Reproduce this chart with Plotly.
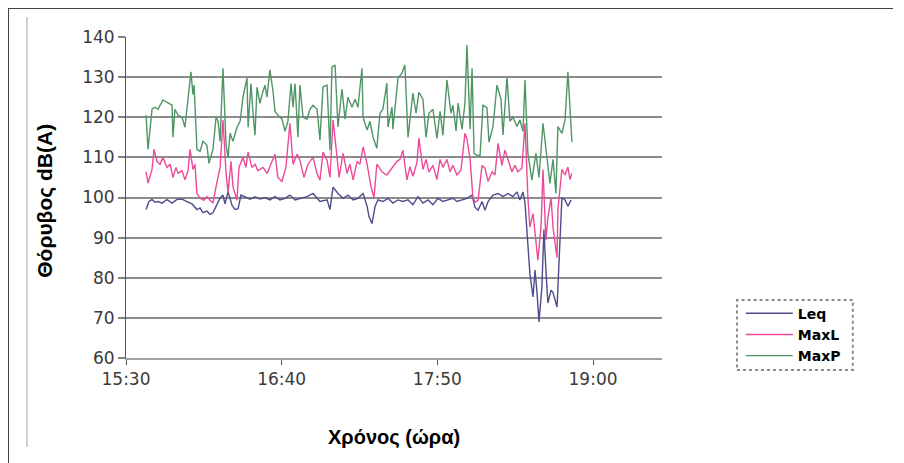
import plotly.graph_objects as go
from datetime import datetime, timedelta

# Times are minutes after 15:30, values in dB(A)
leq_min = [9.0, 10.3, 11.7, 13.0, 14.4, 16.2, 18.4, 20.7, 22.9, 25.2, 27.4, 29.7, 31.9, 33.3, 34.6, 36.4,
           37.8, 39.1, 40.5, 42.3, 43.6, 44.5, 45.9, 47.7, 49.0, 50.4, 51.7, 53.5, 55.8, 58.0, 60.2, 62.5,
           64.7, 67.0, 69.2, 71.5, 73.7, 76.0, 78.2, 81.4, 84.1, 87.2, 90.4, 91.7, 93.1, 95.3, 97.6, 99.8,
           102.1, 104.3, 106.6, 108.4, 109.3, 110.6, 112.0, 113.3, 115.5, 117.8, 120.0, 122.3, 124.5, 126.8,
           129.0, 131.3, 133.5, 135.8, 138.0, 140.3, 142.5, 144.8, 147.0, 148.8, 151.1, 153.3, 155.6, 156.9,
           158.3, 160.1, 161.4, 162.8, 165.0, 167.3, 169.5, 171.7, 174.0, 175.8, 177.1, 178.5, 179.4, 180.3,
           181.6, 183.0, 183.9, 184.8, 185.7, 187.0, 187.9, 188.8, 189.7, 191.1, 192.0, 193.8, 194.7, 196.0,
           197.4, 198.7, 200.1]
leq_val = [97, 99, 99.5, 98.8, 99, 98.6, 99.5, 98.6, 99.5, 99.6, 99, 98.4, 97, 97.4, 96.2, 96.6,
           95.8, 96.2, 97.8, 99.9, 100.6, 98.4, 101.4, 98, 97, 97.2, 100.6, 100.2, 99.6, 100.2, 99.6, 100,
           99.4, 100.2, 99.4, 99.8, 100.6, 99.4, 99.8, 100.2, 101, 99, 99.4, 97, 102.6, 101, 99.8, 100.6,
           99.4, 99.8, 101, 97.8, 95.2, 93.5, 97.8, 99.4, 99, 99.8, 98.6, 99.4, 99, 99.4,
           98.2, 100.2, 98.6, 99.4, 98.2, 99.8, 99, 99.4, 99.8, 99, 99.4, 99.8, 100.6, 97.6,
           96.8, 99, 96.8, 99, 100.6, 101, 100.2, 101, 100.2, 101.4, 99.4, 101.4, 98.6, 91.1,
           81.1, 75.2, 81.9, 76.3, 69, 77.7, 92, 81.9, 73.7, 76.9, 76.3, 72.7, 84.4, 100,
           99.4, 97.8, 99.4]

maxl_min = [9.0, 9.9, 11.7, 12.6, 13.9, 15.3, 16.6, 18.4, 19.8, 21.1, 22.5, 23.4, 25.2, 26.5, 27.9, 28.8,
            30.1, 31.0, 31.9, 33.3, 35.1, 36.4, 37.8, 39.1, 40.5, 42.3, 43.6, 45.0, 45.9, 47.2, 48.1, 49.9,
            50.8, 52.6, 53.9, 54.9, 56.6, 58.0, 59.3, 61.6, 63.4, 65.2, 67.0, 68.3, 70.1, 71.9, 73.7, 75.1,
            76.9, 78.2, 80.0, 81.8, 84.1, 85.9, 87.2, 88.6, 90.4, 91.7, 93.1, 94.9, 95.8, 97.6, 99.4, 100.7,
            102.1, 103.9, 105.2, 106.6, 108.4, 110.2, 111.5, 112.8, 115.1, 117.3, 119.6, 121.8, 123.2, 124.5,
            126.3, 127.7, 129.0, 130.8, 131.7, 133.5, 134.9, 136.2, 138.0, 139.8, 141.2, 142.5, 144.3, 145.7,
            147.0, 148.8, 150.6, 152.4, 153.3, 154.7, 156.0, 156.9, 158.3, 160.1, 161.4, 162.8, 164.6, 165.9,
            167.3, 169.0, 170.4, 171.7, 173.5, 174.9, 176.2, 178.0, 179.4, 180.7, 181.6, 183.0, 184.3, 185.2,
            186.6, 187.5, 188.8, 189.7, 191.1, 192.0, 193.8, 194.2, 196.0, 197.4, 198.7, 199.6, 200.5]
maxl_val = [106.4, 103.6, 107, 112, 109, 108.3, 110, 107.5, 108.3, 105, 107.5, 106, 106.7, 104.4, 106.7, 112,
            107, 108.3, 101, 99.8, 99.3, 100.2, 99.3, 98.6, 102.7, 107.5, 119.3, 106, 101.2, 109, 102.7, 99.3,
            107.5, 110, 107.5, 111.3, 107.5, 108.3, 106.7, 107.5, 106, 108.3, 110.8, 105, 104, 107.5, 118.5, 108.3,
            110.8, 109.3, 105, 108.3, 110, 106, 104.3, 111.3, 109.3, 105, 119.3, 110, 105, 111, 106, 108.3,
            104.4, 109, 108.3, 112.6, 108.3, 102.6, 100, 108.3, 106.4, 105.6, 107.3, 109, 109.5, 111.8,
            104.4, 107.7, 105.3, 108.7, 114.8, 107, 109.5, 106.4, 108, 104.5, 109.5, 107.5, 109.5, 106.4,
            108, 105.6, 106.8, 116, 114.6, 109.5, 100, 98.8, 99.3, 108, 107.3, 104, 106.4, 105.6,
            113.5, 108, 111.8, 109.5, 106.4, 108, 106.4, 107.3, 118.5, 100, 92.6, 96, 89.4, 84.4,
            92.6, 107, 89.4, 95, 100, 92.6, 85, 97, 107, 105.6, 107.6, 104.5, 106]

maxp_min = [9.0, 9.9, 11.7, 13.0, 14.4, 16.6, 18.9, 20.7, 21.1, 22.0, 23.4, 25.2, 26.5, 27.4, 29.2, 30.1,
            30.6, 31.9, 33.3, 34.6, 36.4, 37.3, 39.1, 40.5, 41.4, 42.3, 43.6, 45.0, 45.9, 46.8, 48.1, 49.9,
            51.3, 52.6, 54.4, 54.9, 56.2, 57.1, 58.0, 58.9, 60.2, 61.6, 62.5, 63.4, 64.7, 66.1, 67.0, 68.3,
            70.1, 71.5, 72.8, 74.2, 75.1, 76.0, 77.3, 78.2, 79.6, 81.4, 82.7, 84.1, 85.9, 87.2, 88.6, 90.4,
            91.7, 92.6, 94.0, 95.3, 97.1, 98.5, 99.8, 101.6, 103.0, 104.3, 106.1, 106.6, 108.4, 109.7, 111.1,
            112.8, 114.2, 115.5, 117.3, 117.8, 119.6, 120.0, 122.3, 124.1, 125.4, 126.8, 129.0, 130.4, 131.7,
            133.5, 134.9, 136.2, 138.0, 139.8, 141.2, 142.5, 144.3, 146.1, 147.0, 148.4, 149.3, 151.1, 152.4,
            153.3, 154.7, 155.6, 156.5, 157.8, 159.2, 160.5, 162.3, 163.2, 165.0, 166.8, 168.6, 169.5, 171.3,
            172.6, 174.0, 175.8, 177.1, 178.5, 179.4, 180.7, 182.5, 184.3, 185.7, 187.5, 189.3, 190.6, 192.0,
            193.3, 194.2, 196.0, 197.4, 198.7, 200.5]
maxp_val = [120.5, 112, 122, 122.5, 122, 124.3, 123.6, 123, 115, 122, 120.5, 120, 117.5, 122, 131.3, 125.7,
            128, 112, 111.5, 114, 113, 108.5, 112, 120, 119, 114, 132.2, 113, 110, 116, 114, 117.5,
            119, 125, 129.8, 117.5, 128.4, 121, 115.5, 127.5, 123.5, 126.5, 128, 125, 131.8, 126.5, 121.5, 120.5,
            119.6, 116.5, 119, 128.4, 122.5, 128.4, 115, 128, 120, 119.5, 122, 123, 122, 114.3, 127.6, 128,
            111.8, 132.5, 133, 117.6, 127, 119.5, 125, 122.5, 124.5, 122.5, 132.2, 120, 116.8, 119, 115,
            112.3, 121, 122, 128.5, 117.6, 122.5, 117, 129.8, 131, 133, 115, 126, 121, 126.2,
            124.5, 115, 121, 122, 114.7, 121.5, 115.5, 129.3, 121, 123, 116.6, 123.5, 117, 123.5,
            138, 117, 132.2, 111, 110.5, 110.5, 123, 122.4, 113.8, 117.6, 128, 124.5, 115.6, 130,
            119, 120, 117.7, 119.3, 116.5, 129.3, 111, 104.3, 111, 105, 118.5, 110.5, 103.5, 109.5,
            101, 117.7, 116, 119.3, 131.3, 113.8]

series_names = ["Leq", "MaxL", "MaxP"]
x_ticks = ["15:30", "16:40", "17:50", "19:00"]
y_title = "Θόρυβος dB(A)"
x_title = "Χρόνος (ώρα)"

base = datetime(2000, 1, 1, 15, 30)


def to_time(mins):
    return [base + timedelta(minutes=m) for m in mins]


colors = ["#4d4d8e", "#ec4a98", "#4f9566"]
fig = go.Figure()
for name, mins, vals, col in zip(series_names, [leq_min, maxl_min, maxp_min],
                                 [leq_val, maxl_val, maxp_val], colors):
    fig.add_trace(go.Scatter(x=to_time(mins), y=vals, mode="lines", name=name,
                             line=dict(color=col, width=1.4)))

tick_vals = [datetime(2000, 1, 1, int(t[:2]), int(t[3:])) for t in x_ticks]

fig.update_layout(
    width=896, height=455,
    margin=dict(l=118, r=242, t=29, b=105),
    paper_bgcolor="white", plot_bgcolor="white",
    font=dict(family="DejaVu Sans", size=17, color="#3a3a3a"),
    showlegend=True,
    legend=dict(x=1.147, y=0.188, xanchor="left", yanchor="top",
                borderwidth=0, bgcolor="rgba(0,0,0,0)",
                font=dict(family="DejaVu Sans", size=14, color="black", weight="bold"),
                tracegroupgap=0, itemwidth=47),
    xaxis=dict(type="date",
               range=[base, base + timedelta(minutes=241)],
               tickvals=tick_vals, ticktext=x_ticks,
               ticks="outside", ticklen=5, tickcolor="#555", tickwidth=1,
               showline=True, linecolor="#a0a0a0", linewidth=2,
               showgrid=False, zeroline=False,
               tickfont=dict(family="DejaVu Sans", size=17, color="#3a3a3a")),
    yaxis=dict(range=[60, 140], dtick=10, tick0=60,
               ticks="outside", ticklen=7, tickcolor="#808080", tickwidth=2,
               showline=True, linecolor="#555", linewidth=1,
               showgrid=True, gridcolor="#8c8c8c", gridwidth=2, zeroline=False,
               tickfont=dict(family="DejaVu Sans", size=17, color="#3a3a3a")),
    annotations=[
        dict(text=y_title, xref="paper", yref="paper", x=-0.151, y=0.49,
             textangle=-90, showarrow=False, xanchor="center", yanchor="middle",
             font=dict(family="Liberation Sans", size=21, color="black", weight="bold")),
        dict(text=x_title, xref="paper", yref="paper", x=0.50, y=-0.246,
             showarrow=False, xanchor="center", yanchor="middle",
             font=dict(family="Liberation Sans", size=20, color="black", weight="bold")),
    ],
    shapes=[
        dict(type="line", xref="paper", yref="paper", x0=-0.2201, x1=1.431, y0=1.0903, y1=1.0903,
             line=dict(color="#444", width=2), layer="below"),
        dict(type="line", xref="paper", yref="paper", x0=-0.2201, x1=-0.2201, y0=-0.33, y1=1.0903,
             line=dict(color="#444", width=2), layer="below"),
        dict(type="line", xref="paper", yref="paper", x0=-0.1847, x1=-0.1847, y0=-0.277, y1=1.062,
             line=dict(color="#cfcfcf", width=2), layer="below"),
        dict(type="rect", xref="paper", yref="paper", x0=1.140, x1=1.356, y0=-0.0374, y1=0.1807,
             line=dict(color="#8a8a8a", width=2, dash="dot"), layer="above"),
    ],
)

fig.write_html("out.html")
